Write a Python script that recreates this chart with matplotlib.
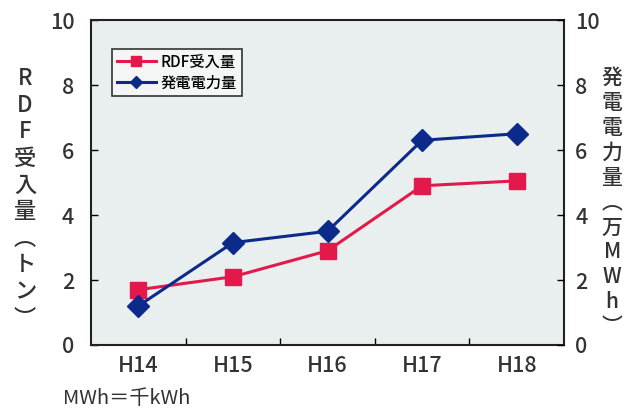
import matplotlib.pyplot as plt
import numpy as np

plt.rcParams['font.family'] = ['Noto Sans CJK JP', 'DejaVu Sans']

# =====================================================
# Data
# =====================================================
years = ["H14", "H15", "H16", "H17", "H18"]
rdf_received = [1.7, 2.1, 2.9, 4.9, 5.05]      # RDF受入量 (トン)
power_generated = [1.2, 3.15, 3.5, 6.3, 6.5]   # 発電電力量 (万MWh)

left_label = "R\nD\nF\n受\n入\n量\n︵\nト\nン\n︶"
right_label = "発\n電\n電\n力\n量\n︵\n万\nM\nW\nh\n︶"

red = "#e3184b"
navy = "#0c2a8a"
bg = "#e9efee"
ink = "#333333"

# =====================================================
# Figure
# =====================================================
fig = plt.figure(figsize=(6.26, 4.09), dpi=100)
ax = fig.add_axes([0.1454, 0.1565, 0.7556, 0.7945])
ax.set_facecolor(bg)
x = np.arange(len(years))

ax.plot(x, rdf_received, color=red, lw=2.2, marker="s", ms=12,
        label="RDF受入量", zorder=3)
ax.plot(x, power_generated, color=navy, lw=2.2, marker="D", ms=11,
        label="発電電力量", zorder=4)

ax.set_xlim(-0.5, len(years) - 0.5)
ax.set_ylim(0, 10)
ax.set_yticks(np.arange(0, 11, 2))

# category labels in the middle, tick marks on the boundaries
ax.set_xticks(x)
ax.set_xticklabels(years, fontsize=15.5, color=ink, fontweight="medium")
ax.tick_params(axis="x", which="major", length=0, pad=7)
ax.set_xticks(x[:-1] + 0.5, minor=True)
ax.tick_params(axis="x", which="minor", direction="in", length=5, width=1)
ax.tick_params(axis="y", direction="in", length=5, width=1, labelsize=15.5,
               labelcolor=ink, pad=12)

for s in ax.spines.values():
    s.set_linewidth(1.5)
    s.set_color("#222222")

# right-hand axis, same scale
ax2 = ax.twinx()
ax2.set_ylim(0, 10)
ax2.set_yticks(np.arange(0, 11, 2))
ax2.tick_params(axis="y", direction="in", length=5, width=1, labelsize=15.5,
                labelcolor=ink, pad=8)
for s in ax2.spines.values():
    s.set_visible(False)

for lbl in ax.get_yticklabels() + ax2.get_yticklabels():
    lbl.set_fontweight("medium")

# stacked vertical axis titles
fig.text(0.04, 0.515, left_label, fontsize=16, ha="center", va="center",
         linespacing=1.2, color=ink, fontweight="medium")
fig.text(0.978, 0.505, right_label, fontsize=15, ha="center", va="center",
         linespacing=1.17, color=ink, fontweight="medium")

fig.text(0.1, 0.0, "MWh＝千kWh", fontsize=14.5, ha="left", va="bottom",
         color=ink)

leg = ax.legend(loc="upper left", bbox_to_anchor=(112 / 626, 1 - 49 / 409),
                bbox_transform=fig.transFigure, fontsize=11, frameon=True,
                fancybox=False, edgecolor="#333333", facecolor="#f4f6f6",
                framealpha=1, borderpad=0.3, handlelength=2.6,
                handletextpad=0.3, labelspacing=0.25, markerscale=0.6,
                borderaxespad=0, prop={"size": 11, "weight": "medium"})
leg.get_frame().set_linewidth(1.2)

fig.savefig("out.png", dpi=100)
